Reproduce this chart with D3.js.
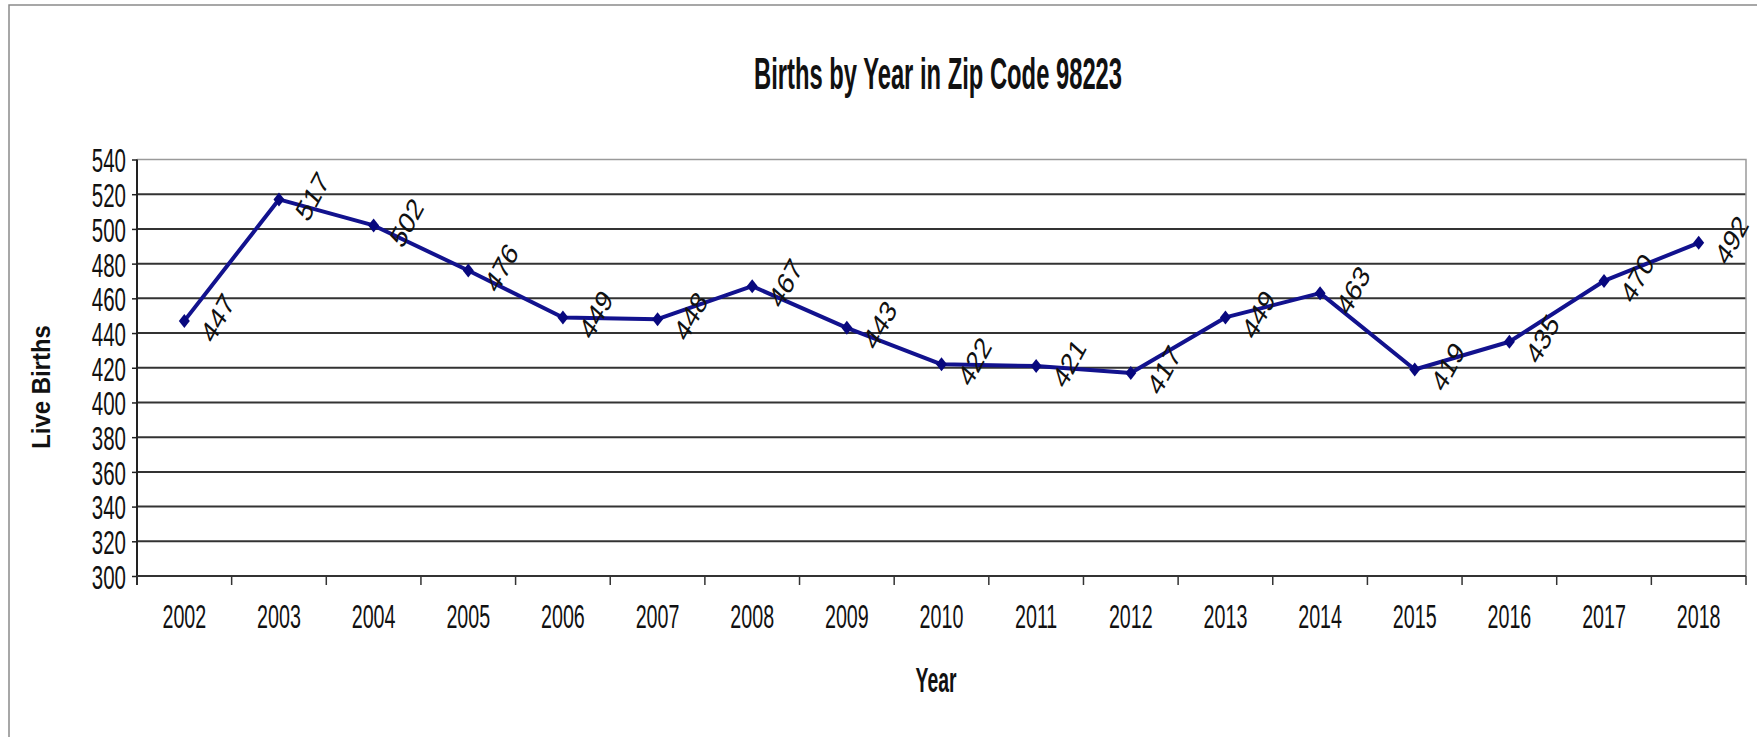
<!DOCTYPE html>
<html>
<head>
<meta charset="utf-8">
<script src="https://cdn.jsdelivr.net/npm/d3@7"></script>
<style>
  body { margin: 0; background: #fff; }
  svg { display: block; }
  text { font-family: "Liberation Sans", Arial, sans-serif; }
</style>
</head>
<body>
<svg id="chart"></svg>
<script>
// Chart data
var years = ["2002", "2003", "2004", "2005", "2006", "2007", "2008", "2009", "2010",
             "2011", "2012", "2013", "2014", "2015", "2016", "2017", "2018"];
var births = [447, 517, 502, 476, 449, 448, 467, 443, 422, 421, 417, 449, 463, 419, 435, 470, 492];
var yTicks = [300, 320, 340, 360, 380, 400, 420, 440, 460, 480, 500, 520, 540];

var width = 1757,
    height = 737;

// the picture has tall, narrow lettering: squeeze x, stretch y
var narrow = 0.82;

var svg = d3.select("#chart")
  .attr("width", width)
  .attr("height", height);

// Outer chart border (top + left only visible)
svg.append("path")
  .attr("d", "M9,737V5H1757")
  .attr("fill", "none")
  .attr("stroke", "#8a8a8a")
  .attr("stroke-width", 1.5);

// Scales
var x = d3.scaleBand()
  .domain(years)
  .range([137, 1746])
  .paddingInner(0)
  .paddingOuter(0);

var y = d3.scaleLinear()
  .domain([300, 540])
  .range([576, 159.5]);

var cx = function(d) { return x(d) + x.bandwidth() / 2; };

// Gridlines
svg.append("g")
  .selectAll("line")
  .data(yTicks.filter(function(t) { return t > 300 && t < 540; }))
  .enter().append("line")
  .attr("x1", x.range()[0])
  .attr("x2", x.range()[1])
  .attr("y1", function(d) { return y(d); })
  .attr("y2", function(d) { return y(d); })
  .attr("stroke", "#333")
  .attr("stroke-width", 2);

// Plot area border top/right
svg.append("path")
  .attr("d", "M" + x.range()[0] + "," + y(540) + "H" + x.range()[1] + "V" + y(300))
  .attr("fill", "none")
  .attr("stroke", "#9a9a9a")
  .attr("stroke-width", 1.5);

// Y axis
var yAxis = svg.append("g")
  .attr("transform", "translate(" + x.range()[0] + ",0)")
  .call(d3.axisLeft(y).tickValues(yTicks).tickSize(5).tickSizeOuter(0).tickFormat(""));
yAxis.select(".domain").attr("stroke", "#222").attr("stroke-width", 2)
  .attr("d", "M0," + y(540) + "V" + (y(300) + 9));
yAxis.selectAll(".tick line").attr("stroke", "#222").attr("stroke-width", 1.5);

svg.append("g")
  .selectAll("text")
  .data(yTicks)
  .enter().append("text")
  .attr("transform", function(d) { return "translate(126," + (y(d) + 1) + ") scale(" + narrow + ",1.32)"; })
  .attr("dy", "0.36em")
  .attr("text-anchor", "end")
  .attr("font-size", 25)
  .attr("fill", "#111")
  .text(function(d) { return d; });

// X axis (ticks between categories)
var xBounds = years.map(function(d) { return x(d); }).concat([x.range()[1]]);
svg.append("line")
  .attr("x1", x.range()[0]).attr("x2", x.range()[1])
  .attr("y1", y(300)).attr("y2", y(300))
  .attr("stroke", "#333").attr("stroke-width", 2);
svg.append("g")
  .selectAll("line")
  .data(xBounds)
  .enter().append("line")
  .attr("x1", function(d) { return d; })
  .attr("x2", function(d) { return d; })
  .attr("y1", y(300))
  .attr("y2", y(300) + 9)
  .attr("stroke", "#333")
  .attr("stroke-width", 1.5);

svg.append("g")
  .selectAll("text")
  .data(years)
  .enter().append("text")
  .attr("transform", function(d) { return "translate(" + cx(d) + ",616) scale(" + narrow + ",1.35)"; })
  .attr("dy", "0.36em")
  .attr("text-anchor", "middle")
  .attr("font-size", 24)
  .attr("fill", "#111")
  .text(function(d) { return d; });

// Line
var line = d3.line()
  .x(function(d, i) { return cx(years[i]); })
  .y(function(d) { return y(d); });

svg.append("path")
  .datum(births)
  .attr("d", line)
  .attr("fill", "none")
  .attr("stroke", "#12128e")
  .attr("stroke-width", 4)
  .attr("stroke-linejoin", "round");

// Diamond markers
svg.append("g")
  .selectAll("path")
  .data(births)
  .enter().append("path")
  .attr("transform", function(d, i) { return "translate(" + cx(years[i]) + "," + y(d) + ")"; })
  .attr("d", "M0,-7L5.5,0L0,7L-5.5,0Z")
  .attr("fill", "#08087e");

// Data labels
svg.append("g")
  .selectAll("text")
  .data(births)
  .enter().append("text")
  .attr("transform", function(d, i) {
    return "translate(" + (cx(years[i]) + 33) + "," + (y(d) - 3) + ") scale(1,1.3) rotate(-55)";
  })
  .attr("dy", "0.36em")
  .attr("text-anchor", "middle")
  .attr("font-size", 23.5)
  .attr("fill", "#111")
  .text(function(d) { return d; });

// Title
svg.append("text")
  .attr("transform", "translate(938,89) scale(" + narrow + ",1.55)")
  .attr("text-anchor", "middle")
  .attr("font-size", 29)
  .attr("font-weight", "bold")
  .attr("fill", "#111")
  .text("Births by Year in Zip Code 98223");

// Axis titles
svg.append("text")
  .attr("transform", "translate(936,692) scale(" + narrow + ",1.48)")
  .attr("text-anchor", "middle")
  .attr("font-size", 23.6)
  .attr("font-weight", "bold")
  .attr("fill", "#111")
  .text("Year");

svg.append("text")
  .attr("transform", "translate(50,387) rotate(-90) scale(0.92,1)")
  .attr("text-anchor", "middle")
  .attr("font-size", 26)
  .attr("font-weight", "bold")
  .attr("fill", "#111")
  .text("Live Births");
</script>
</body>
</html>
